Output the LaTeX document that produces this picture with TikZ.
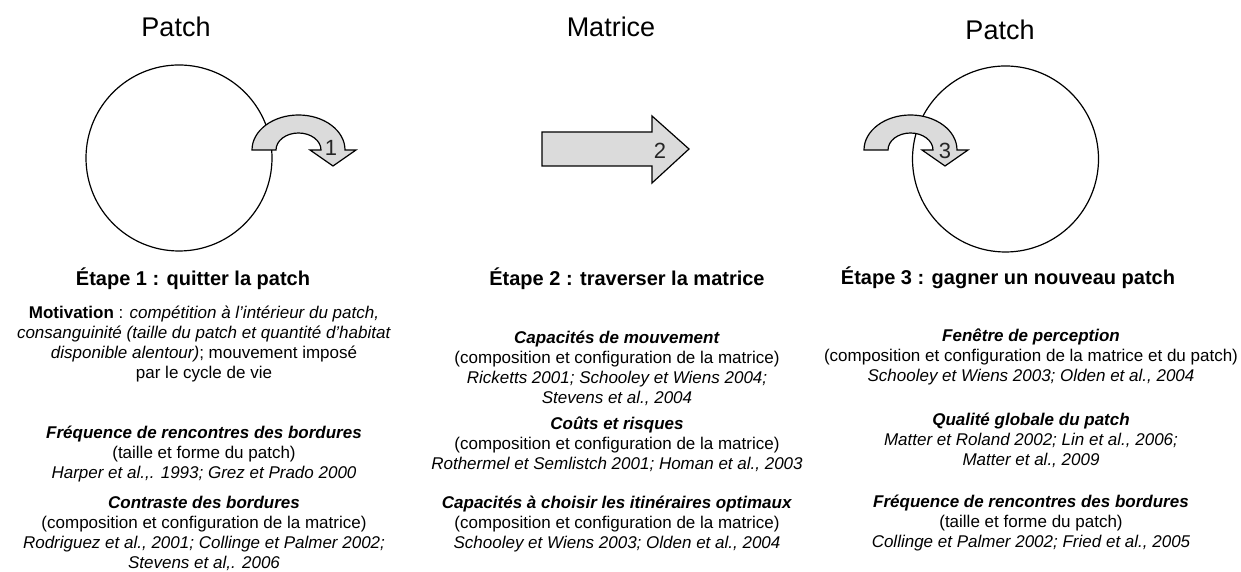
\documentclass[tikz,border=0pt]{standalone}
\usepackage{fontspec}
\setmainfont{Liberation Sans}
\begin{document}
\begin{tikzpicture}[x=0.5pt,y=0.5pt,
  arrowbody/.style={draw=black, line width=0.6pt, fill=black!14, line join=miter},
  patchcircle/.style={draw=black, line width=0.6pt, circle, minimum size=93pt, inner sep=0pt},
  title/.style={font=\fontsize{13.5}{16}\selectfont, anchor=base, inner sep=0pt},
  heading/.style={font=\bfseries\fontsize{10}{12}\selectfont, anchor=base, inner sep=0pt},
  body/.style={font=\fontsize{8.5}{10}\selectfont, align=center, anchor=base, inner sep=0pt},
  num/.style={font=\fontsize{11}{13}\selectfont, inner sep=0pt, text=black!85},
  curvarrow/.pic={\draw[arrowbody] (0,0) arc[start angle=180,end angle=0,x radius=46.5,y radius=35] -- (104,0) -- (81,-16) -- (58,0) -- (69,0) arc[start angle=0,end angle=180,x radius=22.5,y radius=17] -- cycle;}
]
\useasboundingbox (0,0) rectangle (1241,572);

% titles
\node[title] (t1) at (176,535) {Patch};
\node[title] (t2) at (611,535) {Matrice};
\node[title] (t3) at (1000,532) {Patch};

% patches
\node[patchcircle] (c1) at (179,414) {};
\node[patchcircle] (c3) at (1005.5,413) {};

% arrows
\pic at (252,422) {curvarrow};
\draw[arrowbody] (542,440) -- (652,440) -- (652,456) -- (689,423) -- (652,389) -- (652,406) -- (542,406) -- cycle;
\pic at (864,422) {curvarrow};

\node[num] (n1) at (331,424) {1};
\node[num] (n2) at (660,421) {2};
\node[num] (n3) at (945,421) {3};

% headings
\node[heading] (h1) at (193,286) {Étape 1 : quitter la patch};
\node[heading] (h2) at (627,286) {Étape 2 : traverser la matrice};
\node[heading] (h3) at (1008,287) {Étape 3 : gagner un nouveau patch};

% column 1 (anchor base = baseline of last line)
\node[body] (a1) at (204,193) {\textbf{Motivation} : \textit{compétition à l’intérieur du patch,}\\
\textit{consanguinité (taille du patch et quantité d’habitat}\\
\textit{disponible alentour)}; mouvement imposé\\
par le cycle de vie};
\node[body] (a2) at (204,93) {\textbf{\textit{Fréquence de rencontres des bordures}}\\
(taille et forme du patch)\\
\textit{Harper et al.,. 1993; Grez et Prado 2000}};
\node[body] (a3) at (204,3) {\textbf{\textit{Contraste des bordures}}\\
(composition et configuration de la matrice)\\
\textit{Rodriguez et al., 2001; Collinge et Palmer 2002;}\\
\textit{Stevens et al,. 2006}};

% column 2
\node[body] (b1) at (617,168) {\textbf{\textit{Capacités de mouvement}}\\
(composition et configuration de la matrice)\\
\textit{Ricketts 2001; Schooley et Wiens 2004;}\\
\textit{Stevens et al., 2004}};
\node[body] (b2) at (617,102) {\textbf{\textit{Coûts et risques}}\\
(composition et configuration de la matrice)\\
\textit{Rothermel et Semlistch 2001; Homan et al., 2003}};
\node[body] (b3) at (617,23) {\textbf{\textit{Capacités à choisir les itinéraires optimaux}}\\
(composition et configuration de la matrice)\\
\textit{Schooley et Wiens 2003; Olden et al., 2004}};

% column 3
\node[body] (d1) at (1031,190) {\textbf{\textit{Fenêtre de perception}}\\
(composition et configuration de la matrice et du patch)\\
\textit{Schooley et Wiens 2003; Olden et al., 2004}};
\node[body] (d2) at (1031,106) {\textbf{\textit{Qualité globale du patch}}\\
\textit{Matter et Roland 2002; Lin et al., 2006;}\\
\textit{Matter et al., 2009}};
\node[body] (d3) at (1031,24) {\textbf{\textit{Fréquence de rencontres des bordures}}\\
(taille et forme du patch)\\
\textit{Collinge et Palmer 2002; Fried et al., 2005}};
\end{tikzpicture}
\end{document}
